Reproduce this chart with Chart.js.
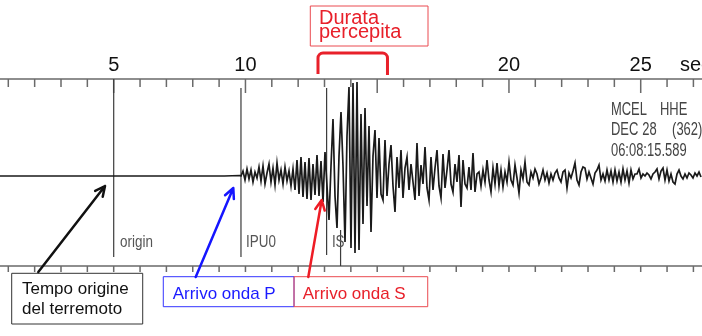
<!DOCTYPE html>
<html>
<head>
<meta charset="utf-8">
<script src="https://cdn.jsdelivr.net/npm/chart.js@4.4.0/dist/chart.umd.min.js"></script>
<style>
  body { margin: 0; background: #fff; }
  #wrap { width: 702px; height: 336px; }
</style>
</head>
<body>
<div id="wrap"><canvas id="seismo"></canvas></div>
<script>
// time axis, seconds
const timeMin = 0.685;
const timeMax = 27.326;
const ampMin = -160;
const ampMax = 176;
const majorTicks = [5, 10, 15, 20, 25];
const majorLabels = ["5", "10", "", "20", "25"];

// flat trace before the P arrival
const preT = [0.6, 9.2, 9.78];
const preA = [0, 0, 0.5];

// recorded trace: one sample every traceStep seconds from traceStart
const traceStart = 9.831;
const traceStep = 0.0759;
const traceA = [
  0, 5, -4, 7, -3, 6, -6, 4, -2, 9,
  -5, 10, -8, 3, 12, -6, 8, -9, 13, -4,
  6, -8, 9, -5, 5, -10, 7, -14, 16, -18,
  19, -21, 14, -23, 18, -24, 12, -19, 21, -20,
  15, -26, 24, -10, -44, 10, 57, -20, -52, 20,
  64, 10, -66, 40, 89, -72, 93, -77, 94, -74,
  62, -48, 68, -30, 50, -56, 20, 46, -22, 38,
  -18, -24, 36, -20, 12, 31, -10, -36, 19, -12,
  26, -22, 8, 19, -14, 12, -6, -24, 33, -20,
  11, -8, 29, -12, -24, 19, -14, 8, 26, -10,
  -22, 22, -12, 6, 26, -8, -16, 12, -6, 21,
  -31, 16, -8, -12, 9, -14, 23, -16, 2, 4,
  -10, 6, -6, 16, -4, -16, 8, -8, 13, -10,
  6, -11, 4, -6, 14, -4, -9, 11, -2, -17,
  6, -3, 14, -6, -9, 4, -2, 7, 2, -8,
  -2, 6, -4, 3, -7, 2, -4, 3, 6, -2,
  -6, 4, 6, -12, 3, -2, 5, 13, -4, -9,
  4, 9, 8, -3, 4, -2, -8, 3, 6, 11,
  -4, 2, -5, 6, -4, 5, -6, 6, -5, 4,
  -6, 7, -4, 5, -7, 6, -3, 2, 2, 7,
  -2, 2, 0, 3, 1, -3, 2, 4, 7, -3,
  5, 8, -4, 6, -5, 2, -6, -8, 2, 6,
  0, -3, 2, -2, 3, 1, -2, 3, 0, 4,
  -1
];

// picks on the record
const pickLines = [
  { t: 5.0, from: 97, to: -81 },
  { t: 9.83, from: 88, to: -81 },
  { t: 13.08, from: 88, to: -79 },
  { t: 13.61, from: -54, to: -90 }
];
const pickNames = ["origin", "IPU0", "IS"];
const pickLabelT = [5.24, 10.02, 13.28];

// station header (text, time of left edge, amplitude of baseline)
const headerText = ["MCEL", "HHE", "DEC", "28", "(362)", "06:08:15.589"];
const headerT = [23.87, 25.73, 23.87, 25.06, 26.19, 23.87];
const headerAmp = [61, 61, 41, 41, 41, 20];

const points = [];
preT.forEach((t, i) => points.push({ x: t, y: preA[i] }));
traceA.forEach((a, i) => points.push({ x: traceStart + i * traceStep, y: a }));

function narrowText(ctx, text, x, y, sx) {
  ctx.save();
  ctx.translate(x, y);
  ctx.scale(sx, 1);
  ctx.fillText(text, 0, 0);
  ctx.restore();
}

function arrow(ctx, x1, y1, x2, y2, color) {
  const ang = Math.atan2(y2 - y1, x2 - x1);
  const len = 11, spread = 0.45;
  ctx.strokeStyle = color;
  ctx.lineWidth = 2.5;
  ctx.lineCap = 'round';
  ctx.beginPath();
  ctx.moveTo(x1, y1);
  ctx.lineTo(x2, y2);
  ctx.moveTo(x2 - len * Math.cos(ang - spread), y2 - len * Math.sin(ang - spread));
  ctx.lineTo(x2, y2);
  ctx.lineTo(x2 - len * Math.cos(ang + spread), y2 - len * Math.sin(ang + spread));
  ctx.stroke();
}

const seismoDecor = {
  id: 'seismoDecor',
  beforeDatasetsDraw(chart) {
    const ctx = chart.ctx;
    const X = v => chart.scales.x.getPixelForValue(v);
    const Y = v => chart.scales.y.getPixelForValue(v);
    ctx.save();

    // top and bottom time axes
    ctx.strokeStyle = '#6a6a6a';
    ctx.lineWidth = 1.5;
    ctx.beginPath();
    ctx.moveTo(X(timeMin), Y(97)); ctx.lineTo(X(timeMax), Y(97));
    ctx.moveTo(X(timeMin), Y(-90)); ctx.lineTo(X(timeMax), Y(-90));
    for (let s = 1; s <= 27; s++) {
      const major = majorTicks.includes(s);
      ctx.moveTo(X(s), Y(97)); ctx.lineTo(X(s), Y(major ? 83 : 89));
      ctx.moveTo(X(s), Y(-90)); ctx.lineTo(X(s), Y(-96));
    }
    ctx.stroke();

    ctx.fillStyle = '#111';
    ctx.font = '20px "Liberation Sans", Arial, sans-serif';
    ctx.textAlign = 'center';
    ctx.textBaseline = 'alphabetic';
    majorTicks.forEach((t, i) => ctx.fillText(majorLabels[i], X(t), Y(105)));
    ctx.textAlign = 'left';
    ctx.fillText('sec', X(26.49), Y(105));

    // pick lines and names
    ctx.strokeStyle = '#3c3c3c';
    ctx.lineWidth = 1.2;
    ctx.beginPath();
    pickLines.forEach(p => { ctx.moveTo(X(p.t), Y(p.from)); ctx.lineTo(X(p.t), Y(p.to)); });
    ctx.stroke();
    ctx.fillStyle = '#555';
    ctx.font = '16px "Liberation Sans", Arial, sans-serif';
    pickNames.forEach((n, i) => narrowText(ctx, n, X(pickLabelT[i]), Y(-71), 0.84));

    // station header
    ctx.fillStyle = '#444';
    ctx.font = '18px "Liberation Sans", Arial, sans-serif';
    headerText.forEach((s, i) => narrowText(ctx, s, X(headerT[i]), Y(headerAmp[i]), 0.72));
    ctx.restore();
  },
  afterDatasetsDraw(chart) {
    const ctx = chart.ctx;
    const X = v => chart.scales.x.getPixelForValue(v);
    const Y = v => chart.scales.y.getPixelForValue(v);
    ctx.save();
    const red = '#e8202a';

    // "Durata percepita" bracket
    ctx.strokeStyle = red;
    ctx.lineWidth = 3;
    ctx.lineJoin = 'round';
    ctx.beginPath();
    ctx.moveTo(X(12.753), Y(102));
    ctx.arcTo(X(12.753), Y(123), X(15.39), Y(123), 5);
    ctx.arcTo(X(15.39), Y(123), X(15.39), Y(102), 5);
    ctx.lineTo(X(15.39), Y(101));
    ctx.stroke();

    ctx.lineWidth = 1;
    ctx.strokeStyle = '#ea4a50';
    ctx.strokeRect(X(12.461), Y(170), X(16.928) - X(12.461), Y(130) - Y(170));
    ctx.fillStyle = red;
    ctx.font = '20px "Liberation Sans", Arial, sans-serif';
    ctx.textAlign = 'left';
    ctx.fillText('Durata', X(12.791), Y(152));
    ctx.fillText('percepita', X(12.791), Y(138.5));

    // caption boxes
    ctx.font = '17px "Liberation Sans", Arial, sans-serif';
    ctx.strokeStyle = '#333';
    ctx.strokeRect(X(1.129), Y(-97.3), X(6.101) - X(1.129), Y(-148) - Y(-97.3));
    ctx.fillStyle = '#111';
    ctx.fillText('Tempo origine', X(1.52), Y(-117.5));
    ctx.fillText('del terremoto', X(1.52), Y(-137.5));

    ctx.strokeStyle = '#3434ff';
    ctx.strokeRect(X(6.882), Y(-100.7), X(11.843) - X(6.882), Y(-130.7) - Y(-100.7));
    ctx.fillStyle = '#1a1aff';
    ctx.fillText('Arrivo onda P', X(7.239), Y(-123.3));

    ctx.strokeStyle = '#ea4a50';
    ctx.strokeRect(X(11.843), Y(-100.7), X(16.917) - X(11.843), Y(-130.7) - Y(-100.7));
    ctx.fillStyle = red;
    ctx.fillText('Arrivo onda S', X(12.173), Y(-123.3));

    // arrows
    arrow(ctx, X(2.138), Y(-96), X(4.67), Y(-10), '#111');
    arrow(ctx, X(8.112), Y(-101), X(9.539), Y(-12), '#1515ff');
    arrow(ctx, X(12.385), Y(-101), X(12.894), Y(-24), '#ee1c25');
    ctx.restore();
  }
};

new Chart(document.getElementById('seismo'), {
  type: 'scatter',
  data: {
    datasets: [{
      data: points,
      showLine: true,
      pointRadius: 0,
      borderColor: '#1a1a1a',
      borderWidth: 1.7,
      tension: 0
    }]
  },
  options: {
    responsive: true,
    maintainAspectRatio: false,
    animation: false,
    layout: { padding: 0 },
    plugins: { legend: { display: false }, tooltip: { enabled: false } },
    scales: {
      x: { type: 'linear', min: timeMin, max: timeMax, display: false },
      y: { min: ampMin, max: ampMax, display: false }
    }
  },
  plugins: [seismoDecor]
});
</script>
</body>
</html>
